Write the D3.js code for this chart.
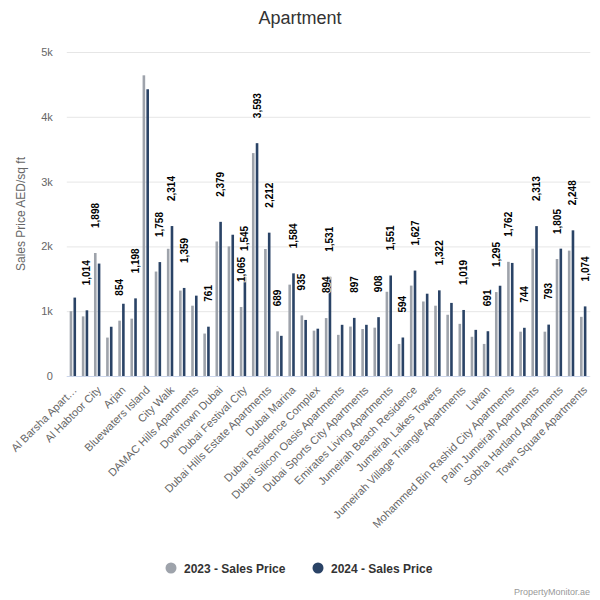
<!DOCTYPE html>
<html><head><meta charset="utf-8">
<script src="https://cdn.jsdelivr.net/npm/d3@7/dist/d3.min.js"></script>
<style>body{margin:0;background:#fff} svg text{font-family:"Liberation Sans",Arial,Helvetica,sans-serif}</style>
</head><body><svg id="c" width="600" height="600"></svg>
<script>
const categories = ["Al Barsha Apartments","Al Furjan Apartments","Al Habtoor City","Al Jaddaf","Arjan","Barsha Heights","Bluewaters Island","Business Bay","City Walk","Creek Beach","DAMAC Hills Apartments","Discovery Gardens","Downtown Dubai","Dubai Creek Harbour","Dubai Festival City","Dubai Harbour","Dubai Hills Estate Apartments","Dubai Investment Park","Dubai Marina","Dubai Production City","Dubai Residence Complex","Dubai Science Park","Dubai Silicon Oasis Apartments","Dubai South","Dubai Sports City Apartments","Dubai Studio City","Emirates Living Apartments","International City","Jumeirah Beach Residence","Jumeirah Golf Estates","Jumeirah Lakes Towers","Jumeirah Village Circle","Jumeirah Village Triangle Apartments","Living Legends","Liwan","Meydan","Mohammed Bin Rashid City Apartments","Motor City","Palm Jumeirah Apartments","Remraam","Sobha Hartland Apartments","The Greens","Town Square Apartments"];
const sales2023 = [1000,920,1898,593,854,885,4640,1612,1963,1318,1085,655,2076,2000,1065,3440,1960,689,1410,935,700,894,635,763,725,746,1300,495,1395,1150,1085,945,805,605,495,1295,1762,684,1965,684,1805,1935,913];
const sales2024 = [1210,1014,1735,760,1115,1198,4425,1758,2314,1359,1240,761,2379,2180,1545,3593,2212,620,1584,865,730,1531,790,897,790,908,1551,594,1627,1270,1322,1128,1019,712,691,1393,1745,744,2313,793,1965,2248,1074];
const shownLabels2023 = [2,4,14,17,19,21,35,36,40];
const shownLabels2024 = [1,5,7,8,9,11,12,14,15,16,18,21,23,25,26,27,28,30,32,34,37,38,39,41,42];
const yTicks = [0,1000,2000,3000,4000,5000];
const yTickLabels = ["0","1k","2k","3k","4k","5k"];
const seriesNames = ["2023 - Sales Price","2024 - Sales Price"];
const colors = ["#9ea3ab","#2a4366"];

const svg = d3.select("#c");
const L = 66.8, R = 589.3, T = 52, B = 376;
const x = d3.scaleBand().domain(d3.range(categories.length)).range([L, R]).padding(0);
const y = d3.scaleLinear().domain([0, 5000]).range([B, T]);
const cx = i => x(i) + x.bandwidth() / 2;
const barW = 2.6, off = 1.9;

// title
svg.append("text").attr("x", 300).attr("y", 24).attr("text-anchor", "middle")
  .attr("font-size", 18).attr("fill", "#333").text("Apartment");

// y axis with grid
const ya = svg.append("g").attr("transform", `translate(${L},0)`)
  .call(d3.axisLeft(y).tickValues(yTicks).tickFormat((d, i) => yTickLabels[i]).tickSize(-(R - L + 1)).tickPadding(14));
ya.select(".domain").remove();
ya.selectAll(".tick line").attr("stroke", "#e6e6e6");
ya.selectAll(".tick text").attr("fill", "#666").attr("font-size", 11).attr("font-family", "Liberation Sans, Arial, sans-serif");

// y title
svg.append("text").attr("transform", `translate(25,${(T + B) / 2}) rotate(-90)`).attr("text-anchor", "middle")
  .attr("font-size", 12).attr("fill", "#666").text("Sales Price AED/sq ft");

// bars
const series = [sales2023, sales2024];
series.forEach((vals, s) => {
  svg.append("g").selectAll("rect").data(vals).join("rect")
    .attr("x", (d, i) => cx(i) + (s === 0 ? -off : off) - barW / 2)
    .attr("y", d => y(d)).attr("width", barW).attr("height", d => B - y(d))
    .attr("fill", colors[s]);
});

// x axis
const xa = svg.append("g").attr("transform", `translate(0,${B})`)
  .call(d3.axisBottom(x).tickValues(d3.range(0, categories.length, 2)).tickFormat(i => categories[i]).tickSize(0).tickPadding(0));
xa.select(".domain").attr("stroke", "#ccd6eb").attr("d", `M${L},0.5H${R}`);
xa.selectAll(".tick text").attr("fill", "#666").attr("font-size", 11).attr("font-family", "Liberation Sans, Arial, sans-serif")
  .attr("text-anchor", "end").attr("x", 0).attr("y", 0).attr("dy", "0.35em")
  .attr("transform", "translate(2,12) rotate(-45)")
  .each(function (i) {
    const el = this; let txt = categories[i];
    const ax = cx(i) + 2;
    while (ax - el.getComputedTextLength() * Math.SQRT1_2 < 9 && txt.length > 3) {
      txt = txt.slice(0, -1);
      el.textContent = txt.trimEnd() + "…";
    }
  });

// data labels
const fmt = d3.format(",");
[[shownLabels2023, sales2023, -off], [shownLabels2024, sales2024, off]].forEach(([idx, vals, o]) => {
  svg.append("g").selectAll("text").data(idx).join("text")
    .attr("transform", i => `translate(${cx(i) + o},${y(vals[i]) - 25}) rotate(-90)`)
    .attr("dy", "0.35em").attr("text-anchor", "start")
    .attr("font-size", 10).attr("font-weight", "bold").attr("fill", "#000")
    .attr("stroke", "#fff").attr("stroke-width", 1.5).attr("paint-order", "stroke")
    .text(i => fmt(vals[i]));
});

// legend
const lx = [171, 318];
seriesNames.forEach((n, s) => {
  svg.append("circle").attr("cx", lx[s]).attr("cy", 568).attr("r", 5.5).attr("fill", colors[s]);
  svg.append("text").attr("x", lx[s] + 13).attr("y", 572.5).attr("font-size", 12).attr("font-weight", "bold")
    .attr("fill", "#333").text(n);
});

// credit
svg.append("text").attr("x", 590).attr("y", 595).attr("text-anchor", "end").attr("font-size", 9)
  .attr("fill", "#999").text("PropertyMonitor.ae");
</script></body></html>
